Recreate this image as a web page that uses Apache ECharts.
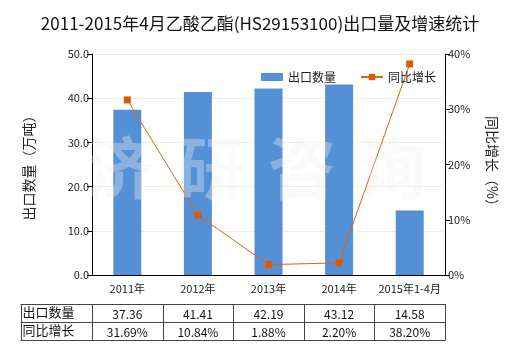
<!DOCTYPE html>
<html><head><meta charset="utf-8">
<script src="https://cdn.jsdelivr.net/npm/echarts@6/dist/echarts.min.js"></script>
<style>html,body{margin:0;padding:0;background:#fff}#c{width:520px;height:350px}</style>
</head><body><div id="c"></div>
<script>
var categories = ['2011年','2012年','2013年','2014年','2015年1-4月'];
var exportVolume = [37.36, 41.41, 42.19, 43.12, 14.58];
var growthRate = [31.69, 10.84, 1.88, 2.20, 38.20];
var leftTicks = [0, 10, 20, 30, 40, 50];
var rightTicks = [0, 10, 20, 30, 40];
var rowLabels = ['出口数量', '同比增长'];
var watermark = ['济','研','咨','询'];

var FONT = '"Noto Sans CJK SC", "Microsoft YaHei", sans-serif';
var chart = echarts.init(document.getElementById('c'), null, {renderer:'canvas'});
var option = {
  animation: false,
  backgroundColor: '#fff',
  textStyle: {fontFamily: FONT},
  title: {text: '2011-2015年4月乙酸乙酯(HS29153100)出口量及增速统计', left: 'center', top: 10,
    textStyle: {fontSize: 17, fontWeight: 'normal', color: '#111', fontFamily: FONT}},
  legend: {top: 66, left: 256, itemWidth: 22, itemHeight: 8, itemGap: 24,
    textStyle: {fontSize: 12, color: '#222', fontFamily: FONT},
    data: [{name:'出口数量', icon:'rect'}, {name:'同比增长'}]},
  grid: {left: 92, right: 75, top: 54, bottom: 75},
  xAxis: {type: 'category', data: categories,
    axisLine: {lineStyle: {color: '#000'}},
    axisTick: {alignWithLabel: true, length: 4, lineStyle: {color: '#000'}},
    axisLabel: {interval: 0, fontSize: 11, color: '#222', margin: 8, fontFamily: FONT}},
  yAxis: [
    {type: 'value', min: 0, max: 50, interval: 10, name: '出口数量（万吨）', nameLocation: 'middle', nameGap: 56,
      nameTextStyle: {fontSize: 14, color: '#222', fontFamily: FONT},
      axisLine: {show: true, lineStyle: {color: '#000'}},
      axisTick: {show: true, length: 5, lineStyle: {color: '#000'}},
      axisLabel: {fontSize: 11, color: '#222', margin: 3, formatter: function(v){return v.toFixed(1);}},
      splitLine: {lineStyle: {color: '#f0efd8'}}},
    {type: 'value', min: 0, max: 40, interval: 10, name: '同比增长（%）', nameLocation: 'middle', nameGap: 40, nameRotate: -90,
      nameTextStyle: {fontSize: 14, color: '#222', fontFamily: FONT},
      position: 'right',
      axisLine: {show: true, lineStyle: {color: '#000'}},
      axisTick: {show: true, length: 5, lineStyle: {color: '#000'}},
      axisLabel: {fontSize: 11, color: '#222', margin: 3, formatter: '{value}%'},
      splitLine: {show: false}}
  ],
  series: [
    {name: '出口数量', type: 'bar', data: exportVolume, barWidth: 28, itemStyle: {color: '#558fd6'}, z: 2},
    {name: '同比增长', type: 'line', yAxisIndex: 1, data: growthRate, symbol: 'rect', symbolSize: 7,
      lineStyle: {color: '#e0620d', width: 1}, itemStyle: {color: '#db5a08'}, z: 3}
  ]
};
chart.setOption(option);

var graphics = [];
var centers = categories.map(function(c, i){ return chart.convertToPixel({xAxisIndex: 0}, i); });
var band = centers.length > 1 ? centers[1] - centers[0] : 70;
var tableLeft = 20.5, firstCol = centers[0] - band / 2, tableRight = centers[centers.length-1] + band / 2;
var rowTop = [304, 322], rowH = 18;
var lineStyle = {stroke: '#444', lineWidth: 1};
[304, 322, 340].forEach(function(y){
  graphics.push({type:'line', shape:{x1: tableLeft, y1: y + 0.5, x2: tableRight, y2: y + 0.5}, style: lineStyle, z: 10});
});
var xs = [tableLeft, firstCol];
centers.forEach(function(c){ xs.push(c + band / 2); });
xs.forEach(function(x){
  var xx = Math.round(x) + 0.5;
  graphics.push({type:'line', shape:{x1: xx, y1: 304, x2: xx, y2: 340.5}, style: lineStyle, z: 10});
});
var rows = [exportVolume.map(function(v){return v.toFixed(2);}), growthRate.map(function(v){return v.toFixed(2) + '%';})];
rowLabels.forEach(function(lbl, r){
  graphics.push({type:'text', x: tableLeft + 2, y: rowTop[r] + rowH / 2 - 1,
    style:{text: lbl, font: '13px ' + FONT, fill: '#111', textVerticalAlign: 'middle', textAlign: 'left'}, z: 10});
  rows[r].forEach(function(t, i){
    graphics.push({type:'text', x: centers[i], y: rowTop[r] + rowH / 2 + 1,
      style:{text: t, font: '12px ' + FONT, fill: '#111', textVerticalAlign: 'middle', textAlign: 'center'}, z: 10});
  });
});
watermark.forEach(function(ch, i){
  graphics.push({type:'text', x: 120 + i * 91, y: 168,
    style:{text: ch, font: 'bold 68px ' + FONT, fill: 'rgba(240,240,240,0.35)', textAlign: 'center', textVerticalAlign: 'middle'}, z: 20});
});
chart.setOption({graphic: graphics});
</script>
</body></html>
